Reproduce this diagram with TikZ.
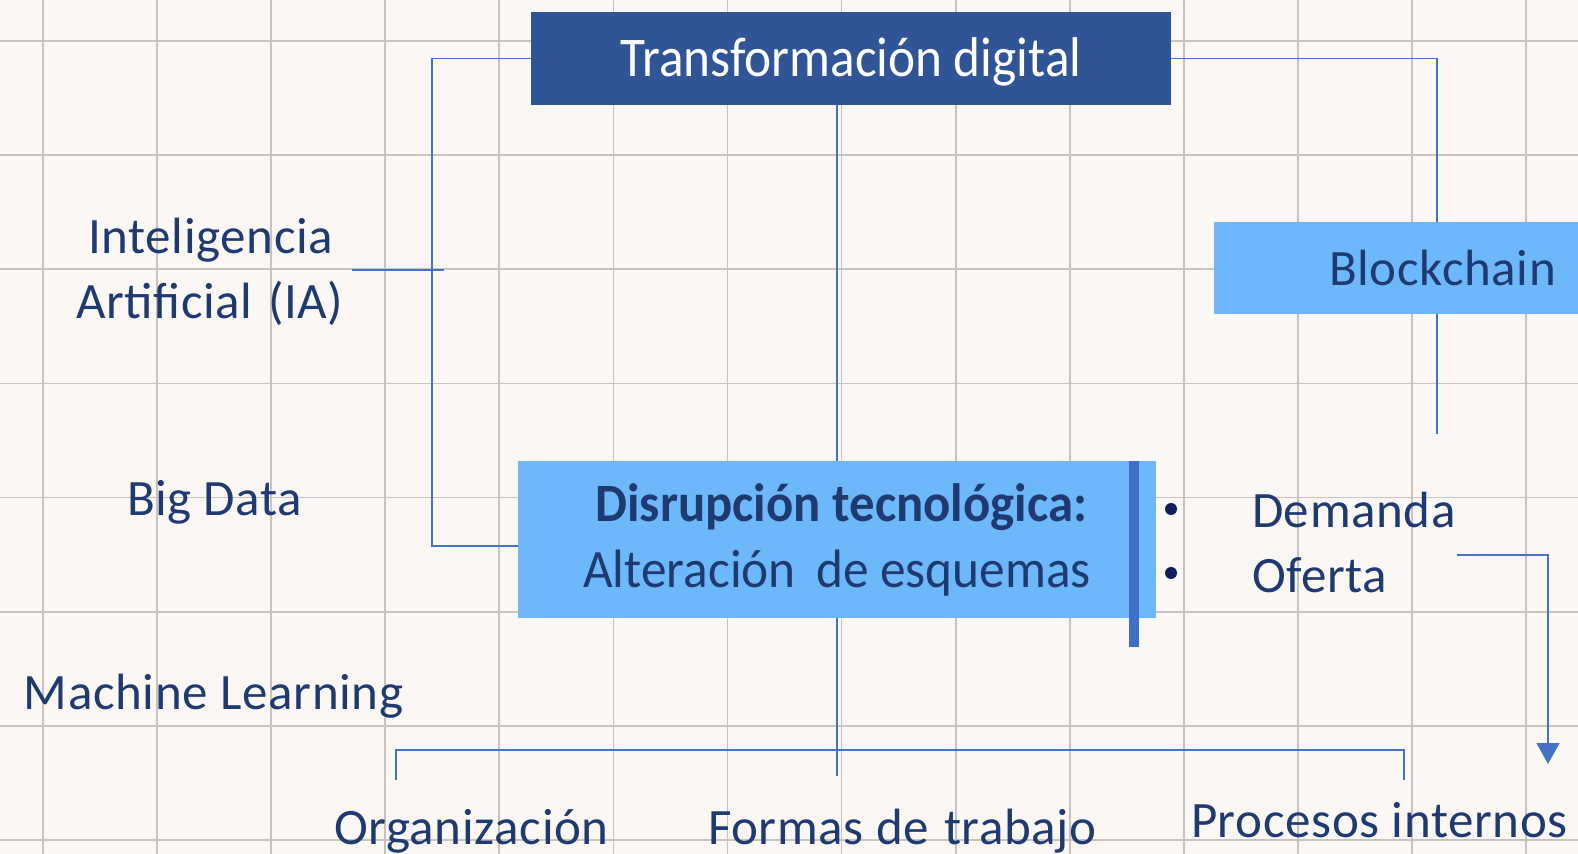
\documentclass[tikz,border=0pt]{standalone}
\usepackage{fontspec}
\setmainfont{Carlito}
\newfontfamily\lblfont[LetterSpace=1.3]{Carlito}
\usetikzlibrary{arrows.meta}
\definecolor{bg}{HTML}{FAF7F5}
\definecolor{gridc}{HTML}{CAC2BD}
\definecolor{dkbox}{HTML}{2F5597}
\definecolor{ltbox}{HTML}{6DB8FA}
\definecolor{txt}{HTML}{1F3A70}
\definecolor{lnc}{HTML}{4472C4}
\definecolor{barc}{HTML}{3F6EC6}
\definecolor{bul}{HTML}{0D1F5C}
\begin{document}
\begin{tikzpicture}[x=0.5pt,y=-0.5pt,
  lbl/.style={text=txt,font=\lblfont\fontsize{25.5}{30}\selectfont,inner sep=0pt,outer sep=0pt},
  boxtxt/.style={inner sep=0pt,outer sep=0pt},
  panel/.style={inner sep=0pt,outer sep=0pt,draw=none},
  conn/.style={draw=lnc,line width=0.75pt},
  bulletdot/.style={circle,fill=bul,inner sep=0pt,minimum size=6pt},
  gridline/.style={draw=gridc,line width=0.9pt}
]
\fill[bg] (0,0) rectangle (1578,854);
\clip (0,0) rectangle (1578,854);
\foreach \i in {0,...,13} \draw[gridline] ({43+114.08*\i},0) -- ({43+114.08*\i},854);
\foreach \j in {0,...,7} \draw[gridline] (0,{41+114.15*\j}) -- (1578,{41+114.15*\j});

% boxes
\node[panel,fill=dkbox,minimum width=320pt,minimum height=46.5pt] (top) at (851,58.5) {};
\node[panel,fill=ltbox,minimum width=193pt,minimum height=46pt] (blk) at (1407,268) {};
\node[panel,fill=ltbox,minimum width=319pt,minimum height=78.5pt] (disr) at (837,539.5) {};
\node[panel,fill=barc,minimum width=5pt,minimum height=93pt] (bar) at (1134,554) {};

% box texts
\node[boxtxt,anchor=base,text=white,font=\fontsize{28}{32}\selectfont] (toptxt) at (851,77) {\scalebox{0.915}[1]{Transformación digital}};
\node[lbl,anchor=base west] (blktxt) at (1329,286) {Blockchain};
\node[boxtxt,anchor=base east,text=txt,font=\bfseries\fontsize{27}{30}\selectfont] (d1) at (1087,522) {\scalebox{0.94}[1]{Disrupción tecnológica:}};
\node[boxtxt,anchor=base east,text=txt,font=\fontsize{27}{30}\selectfont] (d2) at (1091,588) {\scalebox{0.95}[1]{Alteración\hspace{0.4em}de esquemas}};

% bullets
\node[bulletdot] (b1) at (1171,509) {};
\node[bulletdot] (b2) at (1171,573) {};
\node[lbl,anchor=base west] (dem) at (1252,528) {Demanda};
\node[lbl,anchor=base west] (ofe) at (1252,593) {Oferta};

% left texts
\node[lbl,anchor=base west] (ia1) at (88,254) {Inteligencia};
\node[lbl,anchor=base west] (ia2) at (76,319) {Artificial\hspace{0.3em}(IA)};
\node[lbl,anchor=base west] (bd) at (127,516) {Big Data};
\node[lbl,anchor=base west] (ml) at (24,709) {Machine Learning};

% bottom texts
\node[lbl,anchor=base west] (org) at (334,844) {Organización};
\node[lbl,anchor=base west] (for) at (708,844) {Formas de\hspace{0.3em}trabajo};
\node[lbl,anchor=base west] (pro) at (1191,837) {Procesos internos};

% coordinates
\coordinate (lx) at (432,546);
\coordinate (iat) at (352,270);
\coordinate (rx) at (1437,61);
\coordinate (rend) at (1437,434);
\coordinate (bc) at (837,776);
\coordinate (bl) at (396,750);
\coordinate (br) at (1404,750);
\coordinate (blt) at (396,780);
\coordinate (brt) at (1404,780);
\coordinate (as) at (1457,555);
\coordinate (ae) at (1548,764);

% connectors
\draw[conn] (top.west) -| (lx) -- (lx -| disr.west);
\draw[conn] (iat) -- ([xshift=6]lx |- iat);
\draw[conn] (top.east) -| (rx |- blk.north);
\draw[conn] (rx |- blk.south) -- (rend);
\draw[conn] (top.south -| disr.north) -- (disr.north);
\draw[conn] (disr.south) -- (bc);
\draw[conn] (blt) -- (bl) -- (br) -- (brt);
\draw[conn,-{Triangle[width=11.5pt,length=10.5pt]}] (as) -| (ae);
\end{tikzpicture}
\end{document}
